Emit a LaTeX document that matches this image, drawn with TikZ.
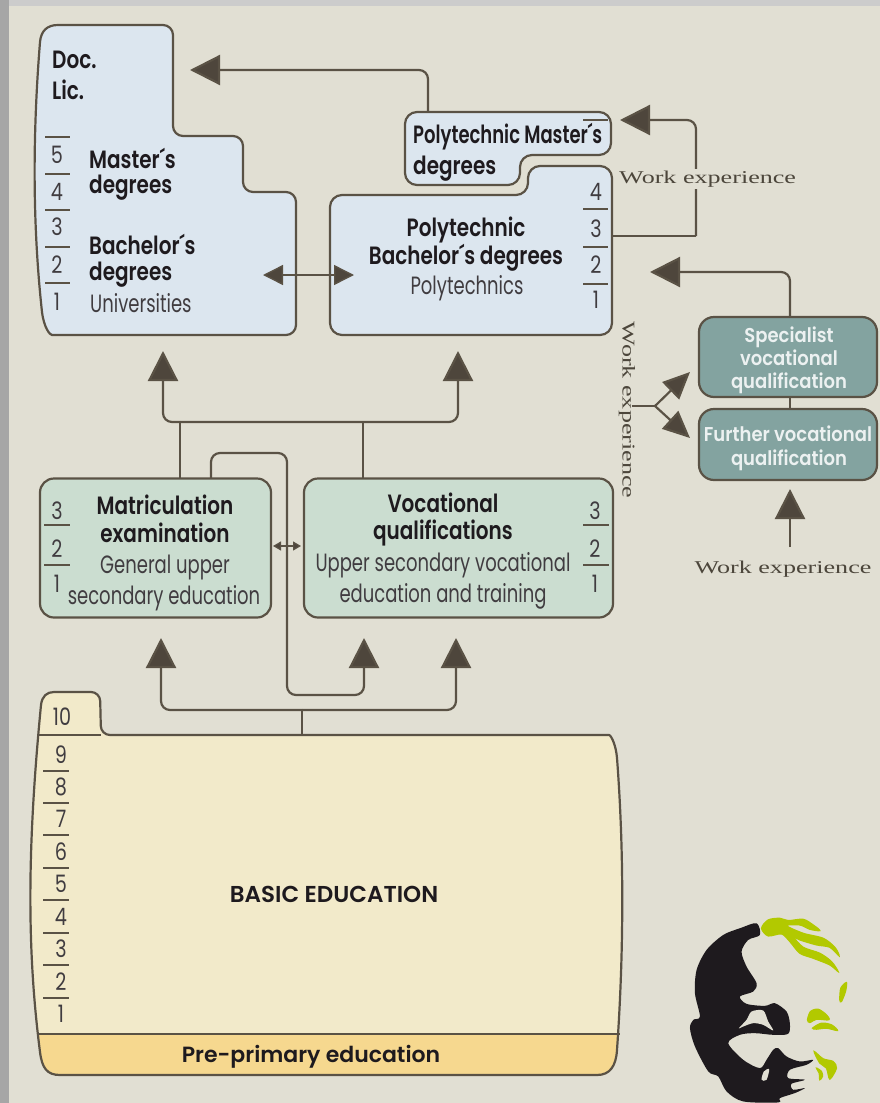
\documentclass[tikz,border=0pt]{standalone}
\usepackage{fontspec}
\usetikzlibrary{arrows.meta}
\newfontfamily\labelfont[FakeStretch=0.8,BoldFont={Poppins SemiBold}]{Poppins}
\newfontfamily\plainfont[FakeStretch=0.72,BoldFont={Poppins SemiBold}]{Poppins}
\newfontfamily\specfont[FakeStretch=0.9,BoldFont={Poppins SemiBold}]{Poppins}
\newfontfamily\capsfont[BoldFont={Poppins SemiBold}]{Poppins}
\newfontfamily\wideserif[FakeStretch=1.45]{Liberation Serif}
\definecolor{paper}{HTML}{E1DFD3}
\definecolor{edge}{HTML}{5A5245}
\definecolor{tipfill}{HTML}{4E463C}
\definecolor{uniblue}{HTML}{DCE6EF}
\definecolor{secgreen}{HTML}{CBDDD0}
\definecolor{specteal}{HTML}{83A3A0}
\definecolor{basicfill}{HTML}{F2EACA}
\definecolor{prefill}{HTML}{F6D88F}
\definecolor{inkdark}{HTML}{1E1A1E}
\definecolor{facegreen}{HTML}{B2C900}
\tikzset{
  outline/.style={draw=edge,line width=2.2pt},
  wire/.style={draw=edge,line width=2.2pt,rounded corners=9pt},
  bigtip/.style={-{Triangle[length=30pt,width=30pt,fill=tipfill]}},
  forktip/.style={-{Triangle[length=27pt,width=24pt,fill=tipfill]}},
  yearno/.style={font=\labelfont\fontsize{24}{24}\selectfont,text=inkdark!85,inner sep=0pt,anchor=base},
  yeartick/.style={draw=edge,line width=1.4pt},
  strong/.style={font=\labelfont\bfseries\fontsize{25}{25}\selectfont,text=inkdark,inner sep=0pt,anchor=base},
  plain/.style={font=\plainfont\fontsize{25}{25}\selectfont,text=inkdark!85,inner sep=0pt,anchor=base},
  spec/.style={font=\specfont\bfseries\fontsize{20}{20}\selectfont,text=white!85!specteal,inner sep=0pt,anchor=base},
  caps/.style={font=\capsfont\bfseries\fontsize{23}{23}\selectfont,text=inkdark,inner sep=0pt,anchor=base},
  worktext/.style={font=\wideserif\fontsize{18}{18}\selectfont,text=edge!85!black,inner sep=0pt},
  secbox/.style={outline,fill=secgreen,rounded corners=14pt,inner sep=0pt},
  specbox/.style={outline,fill=specteal,rounded corners=15pt,inner sep=0pt,minimum width=178pt}
}
\newcommand{\basicoutline}{(54,692) [rounded corners=9pt] -- (100,692) -- (101,735) -- (600,735) [sharp corners] .. controls (611,735) and (616,745) .. (617,758) .. controls (624,850) and (624,950) .. (617,1050) .. controls (616,1066) and (610,1075) .. (597,1075) -- (60,1075) .. controls (47,1075) and (42,1068) .. (40,1052) .. controls (27,950) and (27,850) .. (41,705) .. controls (42,696) and (47,692) .. (54,692) -- cycle}
\begin{document}
\begin{tikzpicture}[x=1pt,y=-1pt]
\useasboundingbox (0,0) rectangle (880,1103);
\fill[black!35] (0,0) rectangle (880,1103);
\fill[black!20] (9,0) rectangle (880,6);
\fill[paper] (9,6) rectangle (880,1103);

\draw[outline,fill=uniblue] (58,25) [rounded corners=10pt] -- (173,25) -- (173,136) -- (243,136) -- (243,192) -- (296,192) -- (296,335) -- (62,335) [sharp corners] .. controls (50,335) and (44,328) .. (42,312) .. controls (32,220) and (33,130) .. (40,42) .. controls (41,31) and (47,25) .. (58,25) -- cycle;
\draw[outline,fill=uniblue,rounded corners=12pt] (330,195) -- (528,195) -- (528,166) -- (612,166) -- (612,335) -- (330,335) -- cycle;
\draw[outline,fill=uniblue,rounded corners=12pt] (405,112) -- (611,112) -- (611,155) -- (520,155) -- (520,185) -- (405,185) -- cycle;

\node[strong,anchor=base west] (doc) at (52,68) {Doc.};
\node[strong,anchor=base west] (lic) at (52,99) {Lic.};
\node[strong,anchor=base west] (master) at (89,168) {Master´s};
\node[strong,anchor=base west] (masterdeg) at (89,193) {degrees};
\node[strong,anchor=base west] (bachelor) at (89,254) {Bachelor´s};
\node[strong,anchor=base west] (bachelordeg) at (89,280) {degrees};
\node[plain,anchor=base west] (unis) at (90,312) {Universities};
\node[strong,font=\plainfont\bfseries\fontsize{25}{25}\selectfont,anchor=base west] (polymaster) at (413,143) {Polytechnic Master´s};
\node[strong,anchor=base west] (polymasterdeg) at (413,174) {degrees};
\node[strong] (poly) at (466,236) {Polytechnic};
\node[strong] (polybach) at (466,264) {Bachelor´s degrees};
\node[plain] (polys) at (467,294) {Polytechnics};

\foreach \n/\y in {5/163,4/200,3/235,2/273,1/310} \node[yearno] (uni\n) at (57,\y) {\n};
\foreach \y in {137,174,210,247,283} \draw[yeartick] (45,\y) -- (70,\y);
\foreach \n/\y in {4/200,3/237,2/273,1/308} \node[yearno] (poly\n) at (596,\y) {\n};
\foreach \y in {120,209,247,284} \draw[yeartick] (583,\y) -- (608,\y);

\node[secbox,minimum width=231pt,minimum height=139pt] (matric) at (155.5,548) {};
\node[secbox,minimum width=309pt,minimum height=139pt] (voc) at (458.5,548) {};
\node[strong] (matric1) at (165,514) {Matriculation};
\node[strong] (matric2) at (165,542) {examination};
\node[plain] (matric3) at (165,573) {General upper};
\node[plain] (matric4) at (164,604) {secondary education};
\node[strong] (voc1) at (443,512) {Vocational};
\node[strong] (voc2) at (443,539) {qualifications};
\node[plain] (voc3) at (443,571) {Upper secondary vocational};
\node[plain] (voc4) at (443,602) {education and training};
\foreach \n/\y in {3/519,2/557,1/592} {
  \node[yearno] (matricyr\n) at (57,\y) {\n};
  \node[yearno] (vocyr\n) at (595,\y) {\n};
}
\foreach \y in {525,565} {
  \draw[yeartick] (44,\y) -- (70,\y);
  \draw[yeartick] (583,\y) -- (609,\y);
}

\fill[basicfill] \basicoutline;
\begin{scope}
\clip \basicoutline;
\fill[prefill] (0,1034) rectangle (880,1103);
\end{scope}
\draw[outline] \basicoutline;
\coordinate (preL) at (39,1034);
\coordinate (preR) at (620,1034);
\coordinate (tabL) at (38,735);
\coordinate (tabR) at (101,735);
\draw[outline] (preL) -- (preR);
\draw[outline] (tabL) -- (tabR);
\node[caps] (basic) at (334,902) {BASIC EDUCATION};
\node[caps,font=\capsfont\bfseries\fontsize{22}{22}\selectfont] (pre) at (311,1062) {Pre-primary education};
\node[yearno] (basic10) at (62,725) {10};
\foreach \n/\y in {9/763,8/795,7/827,6/860,5/892,4/925,3/957,2/990,1/1022} \node[yearno] (basic\n) at (61,\y) {\n};
\foreach \y in {771,803,835,868,900,933,965,998} \draw[yeartick] (43,\y) -- (69,\y);

\node[specbox,minimum height=80pt] (specialist) at (788,357) {};
\node[specbox,minimum height=71pt] (further) at (788,444.5) {};
\node[spec] (spec1) at (789,342) {Specialist};
\node[spec] (spec2) at (789,365) {vocational};
\node[spec] (spec3) at (789,388) {qualification};
\node[spec] (further1) at (788,441) {Further vocational};
\node[spec] (further2) at (789,465) {qualification};

\coordinate (doctip) at (190,70);
\coordinate (mastertop) at (428,112);
\coordinate (polyout) at (612,236);
\coordinate (masterin) at (620,120);
\coordinate (turn) at (696,236);
\coordinate (polyin) at (650,272);
\coordinate (spectop) at (790,317);
\coordinate (specbot) at (790,397);
\coordinate (furthertop) at (790,409);
\coordinate (uniarrow) at (263,275);
\coordinate (polyarrow) at (354,275);
\coordinate (unitip) at (163,351);
\coordinate (polytip) at (458,351);
\coordinate (upjoin) at (180,422);
\coordinate (matrup) at (180,478);
\coordinate (vocup) at (363,478);
\coordinate (vocjoin) at (363,422);
\coordinate (loopstart) at (211,478);
\coordinate (looptop) at (287,453);
\coordinate (loopbot) at (287,695);
\coordinate (midtip) at (364,638);
\coordinate (lefttip) at (161,638);
\coordinate (righttip) at (456,638);
\coordinate (basicjoin) at (302,710);
\coordinate (basictop) at (302,735);
\coordinate (smallL) at (273,546);
\coordinate (smallR) at (301,546);
\coordinate (forkin) at (632,406);
\coordinate (fork) at (655,406);
\coordinate (forkup) at (690,372);
\coordinate (forkdown) at (690,438);
\coordinate (furthertip) at (790,489);
\coordinate (workstem) at (790,547);

\draw[wire,bigtip] (mastertop) |- (doctip);
\draw[wire] (polyout) -- (turn);
\draw[wire,bigtip] (turn) |- (masterin);
\draw[wire,bigtip] (spectop) |- (polyin);
\draw[outline] (specbot) -- (furthertop);
\draw[draw=edge,line width=1.4pt,{Triangle[length=20pt,width=20pt,fill=tipfill]}-{Triangle[length=20pt,width=20pt,fill=tipfill]}] (uniarrow) -- (polyarrow);
\draw[wire,bigtip] (upjoin) -| (unitip);
\draw[wire,bigtip] (upjoin) -| (polytip);
\draw[outline] (matrup) -- (upjoin);
\draw[outline] (vocup) -- (vocjoin);
\draw[wire,bigtip] (loopstart) |- (looptop) -- (loopbot) -| (midtip);
\draw[wire,bigtip] (basicjoin) -| (lefttip);
\draw[wire,bigtip] (basicjoin) -| (righttip);
\draw[outline] (basicjoin) -- (basictop);
\draw[draw=edge,line width=1.2pt,{Triangle[length=8pt,width=9pt,fill=tipfill]}-{Triangle[length=8pt,width=9pt,fill=tipfill]}] (smallL) -- (smallR);
\draw[outline] (forkin) -- (fork);
\draw[outline,forktip] (fork) -- (forkup);
\draw[outline,forktip] (fork) -- (forkdown);
\draw[outline,bigtip] (workstem) -- (furthertip);

\node[worktext,fill=paper,inner sep=2pt,anchor=base west] (workpoly) at (617,183) {Work experience};
\node[worktext,rotate=-90] (workside) at (627,410) {Work experience};
\node[worktext,anchor=base] (workbottom) at (783,573) {Work experience};

\begin{scope}[shift={(640,860)},x=.333pt,y=-.333pt]
\fill[inkdark] plot[smooth cycle,tension=.5] coordinates {(350,190) (360,225) (325,240) (305,275) (320,320) (350,370) (340,395) (300,410) (320,432) (375,438) (405,430) (440,455) (450,490) (445,522) (400,525) (345,520) (300,525) (265,550) (310,600) (360,625) (380,600) (400,570) (415,565) (440,590) (480,605) (520,600) (500,615) (450,630) (445,655) (495,660) (455,672) (460,690) (495,685) (465,700) (420,715) (415,728) (310,725) (260,695) (235,650) (205,635) (165,560) (150,505) (160,480) (180,470) (165,400) (170,330) (200,270) (250,225) (300,205)};
\fill[paper] plot[smooth cycle,tension=.5] coordinates {(297,505) (320,480) (335,455) (370,452) (385,485) (400,512) (370,495) (340,490) (310,500)};
\fill[paper] plot[smooth cycle,tension=.5] coordinates {(365,660) (372,635) (388,628) (380,660)};
\begin{scope}[fill=facegreen,draw=facegreen,line width=1.2pt]
\filldraw plot[smooth cycle,tension=.5] coordinates {(365,205) (385,180) (420,175) (445,182) (490,178) (520,195) (540,212) (510,208) (480,195) (440,197) (490,220) (550,235) (585,262) (598,288) (570,262) (530,255) (480,240) (460,230) (490,262) (540,280) (575,305) (595,335) (570,315) (520,295) (480,280) (450,245) (425,222) (385,228)};
\filldraw plot[smooth cycle,tension=.5] coordinates {(503,480) (512,455) (535,448) (560,465) (567,480) (530,478) (510,488)};
\filldraw plot[smooth cycle,tension=.5] coordinates {(518,505) (545,490) (575,495) (593,512) (560,505) (530,508)};
\filldraw plot[smooth cycle,tension=.5] coordinates {(600,420) (603,385) (620,368) (617,395) (605,425)};
\filldraw plot[smooth cycle,tension=.5] coordinates {(523,575) (550,597) (580,605) (590,625) (570,658) (560,625) (540,610)};
\filldraw plot[smooth cycle,tension=.5] coordinates {(530,625) (545,635) (548,650) (540,660) (538,640)};
\end{scope}
\end{scope}
\end{tikzpicture}
\end{document}
